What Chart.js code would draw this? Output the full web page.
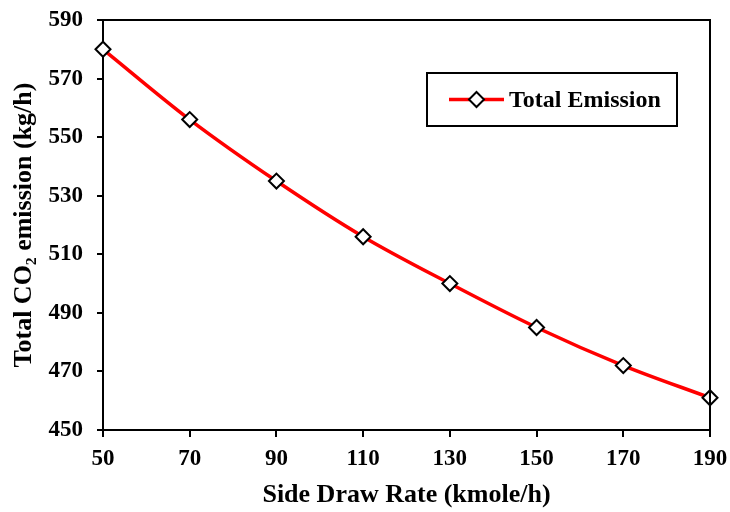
<!DOCTYPE html>
<html>
<head>
<meta charset="utf-8">
<script src="https://cdn.jsdelivr.net/npm/chart.js@4/dist/chart.umd.min.js"></script>
<style>
  html, body { margin: 0; padding: 0; background: #fff; }
  #wrap { width: 730px; height: 512px; }
</style>
</head>
<body>
<div id="wrap"><canvas id="co2Chart" width="730" height="512"></canvas></div>
<script>
'use strict';

// data
const sideDrawRates = [50, 70, 90, 110, 130, 150, 170, 190];
const totalEmission = [580, 556, 535, 516, 500, 485, 472, 461];
const seriesLabel = 'Total Emission';
const xTitle = 'Side Draw Rate (kmole/h)';
const yTitle = 'Total CO\u2082 emission (kg/h)';

const serif = '"Liberation Serif", "Times New Roman", serif';

// top + right frame of the plot box
const frameBox = {
  id: 'frameBox',
  afterDraw(chart) {
    const a = chart.chartArea;
    const ctx = chart.ctx;
    ctx.save();
    ctx.strokeStyle = '#000';
    ctx.lineWidth = 2;
    ctx.beginPath();
    ctx.moveTo(a.left, a.top);
    ctx.lineTo(a.right, a.top);
    ctx.lineTo(a.right, a.bottom);
    ctx.stroke();
    ctx.restore();
  }
};

// legend with line + diamond, like the original
const boxLegend = {
  id: 'boxLegend',
  afterDraw(chart) {
    const ctx = chart.ctx;
    const ds = chart.data.datasets[0];
    const x0 = 427, y0 = 73, w = 250, h = 53;
    const cy = y0 + h / 2;
    const mx = 476.5, r = ds.pointRadius;
    ctx.save();
    ctx.fillStyle = '#fff';
    ctx.fillRect(x0, y0, w, h);
    ctx.strokeStyle = '#000';
    ctx.lineWidth = 2;
    ctx.strokeRect(x0, y0, w, h);
    ctx.strokeStyle = ds.borderColor;
    ctx.lineWidth = ds.borderWidth;
    ctx.beginPath();
    ctx.moveTo(449, cy);
    ctx.lineTo(504, cy);
    ctx.stroke();
    ctx.fillStyle = ds.pointBackgroundColor;
    ctx.strokeStyle = ds.pointBorderColor;
    ctx.lineWidth = ds.pointBorderWidth;
    ctx.beginPath();
    ctx.moveTo(mx, cy - r);
    ctx.lineTo(mx + r, cy);
    ctx.lineTo(mx, cy + r);
    ctx.lineTo(mx - r, cy);
    ctx.closePath();
    ctx.fill();
    ctx.stroke();
    ctx.fillStyle = '#000';
    ctx.font = 'bold 24px ' + serif;
    ctx.textBaseline = 'middle';
    ctx.fillText(ds.label, 509, cy + 1);
    ctx.restore();
  }
};

const ctx = document.getElementById('co2Chart');

new Chart(ctx, {
  type: 'line',
  data: {
    datasets: [{
      label: seriesLabel,
      data: sideDrawRates.map((x, i) => ({ x: x, y: totalEmission[i] })),
      borderColor: '#ff0000',
      borderWidth: 3.5,
      cubicInterpolationMode: 'monotone',
      pointStyle: 'rectRot',
      pointRadius: 7.5,
      pointHoverRadius: 7.5,
      pointBackgroundColor: '#fff',
      pointBorderColor: '#000',
      pointBorderWidth: 2,
      fill: false,
      clip: false
    }]
  },
  plugins: [frameBox, boxLegend],
  options: {
    responsive: false,
    animation: false,
    layout: { padding: { top: 20, right: 20, left: 0, bottom: 0 } },
    plugins: {
      legend: { display: false },
      tooltip: { enabled: false }
    },
    scales: {
      x: {
        type: 'linear',
        min: 50,
        max: 190,
        afterFit(scale) {
          scale.height = 82;
          scale.paddingLeft = 0;
          scale.paddingRight = 0;
        },
        afterBuildTicks(scale) { scale.ticks = sideDrawRates.map(v => ({ value: v })); },
        ticks: {
          color: '#000',
          padding: 8,
          font: { family: serif, size: 23, weight: 'bold' },
          maxRotation: 0
        },
        grid: { drawOnChartArea: false, drawTicks: true, tickLength: 7, color: '#000', lineWidth: 2 },
        border: { color: '#000', width: 2 },
        title: {
          display: true,
          text: xTitle,
          color: '#000',
          font: { family: serif, size: 26, weight: 'bold' },
          padding: { top: 0, bottom: 1 }
        }
      },
      y: {
        min: 450,
        max: 590,
        afterFit(scale) {
          scale.width = 103;
          scale.paddingTop = 0;
          scale.paddingBottom = 0;
        },
        ticks: {
          stepSize: 20,
          color: '#000',
          padding: 14,
          font: { family: serif, size: 23, weight: 'bold' }
        },
        grid: { drawOnChartArea: false, drawTicks: true, tickLength: 6, color: '#000', lineWidth: 2 },
        border: { color: '#000', width: 2 },
        title: {
          display: true,
          text: yTitle,
          color: '#000',
          font: { family: serif, size: 26, weight: 'bold' },
          padding: { top: 9, bottom: 0 }
        }
      }
    }
  }
});
</script>
</body>
</html>
